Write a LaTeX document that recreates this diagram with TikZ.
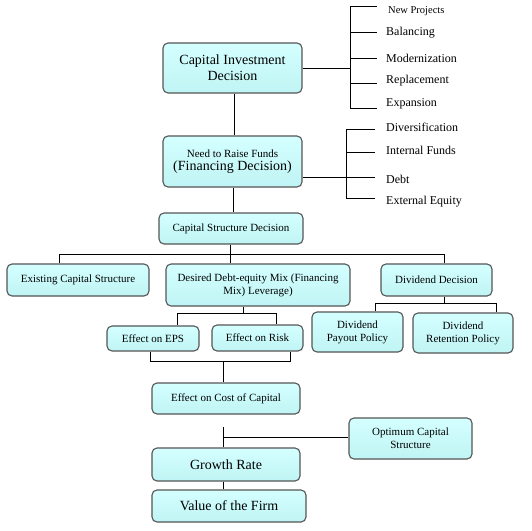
\documentclass[tikz,border=0pt]{standalone}
\usepackage{fontspec}
\setmainfont{LiberationSerif}[Extension=.ttf, UprightFont=*-Regular, BoldFont=*-Bold, ItalicFont=*-Italic, BoldItalicFont=*-BoldItalic]
\usetikzlibrary{calc}
\definecolor{boxtop}{RGB}{212,255,255}
\definecolor{boxbot}{RGB}{192,244,244}
\definecolor{boxline}{RGB}{85,85,85}
\tikzset{
  box/.style={draw=boxline, line width=1.1pt, rounded corners=5pt,
    top color=boxtop, bottom color=boxbot, align=center, inner sep=1pt,
    font=\rmfamily\fontsize{11}{13}\selectfont},
  bigtxt/.style={font=\rmfamily\fontsize{14}{16}\selectfont},
  conn/.style={line width=0.9pt, black},
  lbl/.style={anchor=west, inner sep=0pt, font=\rmfamily\fontsize{12}{14}\selectfont}
}
\begin{document}
\begin{tikzpicture}[x=1pt,y=1pt]
\useasboundingbox (0,0) rectangle (532,-530);

% boxes
\node[box,bigtxt,minimum width=139pt,minimum height=50pt] (cid) at (232.5,-68) {Capital Investment\\Decision};
\node[box,minimum width=139pt,minimum height=51pt] (nrf) at (232.5,-161.5) {Need to Raise Funds\\{\fontsize{14}{16}\selectfont (Financing Decision)}};
\node[box,minimum width=144pt,minimum height=31pt] (csd) at (231,-228.5) {Capital Structure Decision};
\node[box,minimum width=142pt,minimum height=32pt] (ecs) at (78,-280) {Existing Capital Structure};
\node[box,minimum width=184pt,minimum height=42pt] (ddm) at (258,-285) {Desired Debt-equity Mix (Financing\\Mix) Leverage)};
\node[box,minimum width=111pt,minimum height=32pt] (dd) at (436.5,-280) {Dividend Decision};
\node[box,minimum width=92pt,minimum height=25pt] (eps) at (153,-338.5) {Effect on EPS};
\node[box,minimum width=91pt,minimum height=26pt] (risk) at (257.5,-338) {Effect on Risk};
\node[box,minimum width=91pt,minimum height=40pt] (dpp) at (357.5,-332) {Dividend\\Payout Policy};
\node[box,minimum width=100pt,minimum height=40pt] (drp) at (463,-333) {Dividend\\Retention Policy};
\node[box,minimum width=148pt,minimum height=31pt] (ecc) at (226,-398.5) {Effect on Cost of Capital};
\node[box,minimum width=123pt,minimum height=41pt] (ocs) at (410.5,-438.5) {Optimum Capital\\Structure};
\node[box,bigtxt,minimum width=148pt,minimum height=33pt] (gr) at (226,-464.5) {Growth Rate};
\node[box,bigtxt,minimum width=154pt,minimum height=32pt] (vf) at (229,-506) {Value of the Firm};

% capital investment bracket
\coordinate (cb1) at (350,-6);
\coordinate (cb2) at (350,-108);
\coordinate (cin) at (350,-68);
\draw[conn] (cid.east |- cin) -- (cin);
\draw[conn] (cb1) -- (cb2);
\foreach \y/\n in {6/a,32/b,58/c,83/d,108/e}{
  \coordinate (ct\n) at (377,-\y);
  \draw[conn] (cb1 |- ct\n) -- (ct\n);
}
\node[lbl,font=\rmfamily\fontsize{10.5}{12}\selectfont] (l1) at (388,-11) {New Projects};
\node[lbl] (l2) at (386,-33) {Balancing};
\node[lbl] (l3) at (386,-58) {Modernization};
\node[lbl] (l4) at (386,-81) {Replacement};
\node[lbl] (l5) at (386,-104) {Expansion};

% financing bracket
\coordinate (fb1) at (346,-129);
\coordinate (fb2) at (346,-198);
\coordinate (fin) at (375,-177);
\draw[conn] (nrf.east |- fin) -- (fin);
\draw[conn] (fb1) -- (fb2);
\foreach \y/\n in {129/a,152/b,198/d}{
  \coordinate (ft\n) at (375,-\y);
  \draw[conn] (fb1 |- ft\n) -- (ft\n);
}
\node[lbl] (m1) at (386,-127) {Diversification};
\node[lbl] (m2) at (386,-150) {Internal Funds};
\node[lbl] (m3) at (386,-179) {Debt};
\node[lbl] (m4) at (386,-202) {External Equity};

% vertical spine
\draw[conn] (cid.south -| 234,0) -- (nrf.north -| 234,0);
\draw[conn] (nrf.south -| 233,0) -- (csd.north -| 233,0);

% capital structure bus
\coordinate (s1) at (59,-254);
\coordinate (s2) at (230,-254);
\coordinate (s3) at (444,-254);
\draw[conn] (csd.south -| s2) -- (s2);
\draw[conn] (s1) -- (s3);
\draw[conn] (s1) -- (s1 |- ecs.north);
\draw[conn] (s2) -- (s2 |- ddm.north);
\draw[conn] (s3) -- (s3 |- dd.north);

% effects bus
\coordinate (e0) at (243,-313);
\coordinate (e1) at (177,-313);
\coordinate (e2) at (276,-313);
\draw[conn] (ddm.south -| e0) -- (e0);
\draw[conn] (e1) -- (e2);
\draw[conn] (e1) -- (e1 |- eps.north);
\draw[conn] (e2) -- (e2 |- risk.north);

% dividend bus
\coordinate (d0) at (444,-303);
\coordinate (d1) at (375,-303);
\coordinate (d2) at (496,-303);
\draw[conn] (dd.south -| d0) -- (d0);
\draw[conn] (d1) -- (d2);
\draw[conn] (d1) -- (d1 |- dpp.north);
\draw[conn] (d2) -- (d2 |- drp.north);

% effects bottom bus
\coordinate (f1) at (150,-361);
\coordinate (f2) at (290,-361);
\coordinate (f0) at (223,-361);
\draw[conn] (eps.south -| f1) -- (f1) -- (f2) -- (risk.south -| f2);
\draw[conn] (f0) -- (ecc.north -| f0);

% cost of capital to growth rate
\coordinate (g0) at (223,-427);
\coordinate (g1) at (223,-437);
\draw[conn] (g0) -- (gr.north -| g0);
\draw[conn] (g1) -- (ocs.west |- g1);
\draw[conn] (gr.south -| g0) -- (vf.north -| g0);
\end{tikzpicture}
\end{document}
